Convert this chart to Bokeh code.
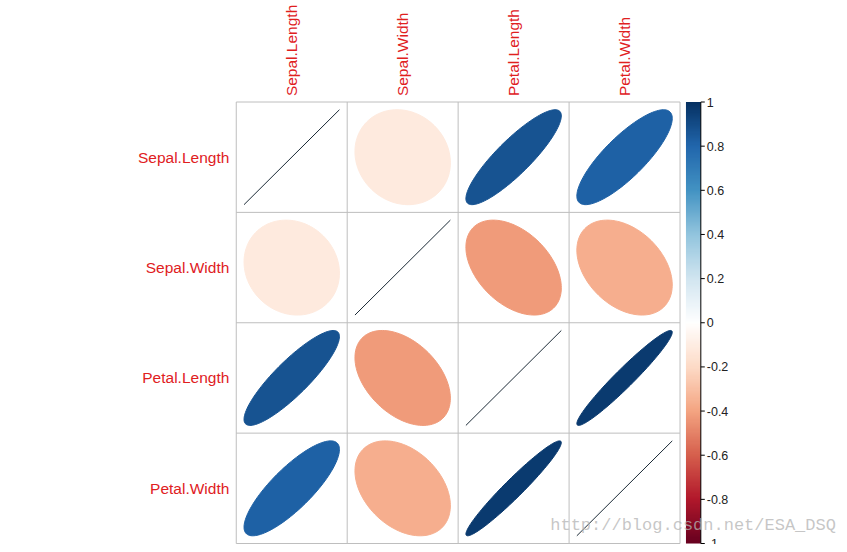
import numpy as np
from bokeh.plotting import figure
from bokeh.models import Range1d
from bokeh.core.properties import value
from bokeh.embed import file_html
from bokeh.resources import INLINE

# ---- data ----
variables = ["Sepal.Length", "Sepal.Width", "Petal.Length", "Petal.Width"]
corr_sepal_length = [1.0, -0.1176, 0.8718, 0.8179]
corr_sepal_width = [-0.1176, 1.0, -0.4284, -0.3661]
corr_petal_length = [0.8718, -0.4284, 1.0, 0.9629]
corr_petal_width = [0.8179, -0.3661, 0.9629, 1.0]
corr = [corr_sepal_length, corr_sepal_width, corr_petal_length, corr_petal_width]
cbar_ticks = [1, 0.8, 0.6, 0.4, 0.2, 0, -0.2, -0.4, -0.6, -0.8, -1]
cbar_labels = ["1", "0.8", "0.6", "0.4", "0.2", "0", "-0.2", "-0.4", "-0.6", "-0.8", "-1"]

palette = ["#67001F", "#B2182B", "#D6604D", "#F4A582", "#FDDBC7", "#FFFFFF",
           "#D1E5F0", "#92C5DE", "#4393C3", "#2166AC", "#053061"]


def hex2rgb(h):
    return np.array([int(h[i:i + 2], 16) for i in (1, 3, 5)], dtype=float)


pal_rgb = [hex2rgb(c) for c in palette]


def rgb_for(r):
    t = (r + 1) / 2 * (len(palette) - 1)
    i = int(np.clip(np.floor(t), 0, len(palette) - 2))
    f = t - i
    return pal_rgb[i] * (1 - f) + pal_rgb[i + 1] * f


def color_for(r):
    c = rgb_for(r)
    return "#%02x%02x%02x" % tuple(int(round(v)) for v in c)


# ---- layout (reference pixel coords, mapped onto the figure) ----
W, H = 839, 544
REF_W, REF_H = 847, 552
PX = 112.0            # pixels per cell in reference
GX0 = 238.0           # grid left
GY1 = 551.0           # grid bottom


def dx(px):
    return (px - GX0) / PX


def dy(py):
    return (GY1 - py) / PX


n = len(variables)
p = figure(width=W, height=H, output_backend="svg", toolbar_location=None,
           x_range=Range1d(dx(0), dx(REF_W)), y_range=Range1d(dy(REF_H), dy(0)),
           min_border=0, outline_line_color=None)
p.axis.visible = False
p.grid.visible = False
p.background_fill_color = "white"
p.border_fill_color = "white"

FONT = value("Liberation Sans")

# ellipses
SC = 0.86
k = np.linspace(0, 2 * np.pi, 120)
xs, ys, cols = [], [], []
lx, ly = [], []
for i in range(n):
    for j in range(n):
        r = corr[i][j]
        cx, cy = j + 0.5, (n - 1 - i) + 0.5
        a = np.arccos(np.clip(r, -1, 1))
        ex = np.cos(k + a / 2) / 2 * SC
        ey = np.cos(k - a / 2) / 2 * SC
        if abs(r) >= 0.999:
            lx.append([cx - SC / 2, cx + SC / 2])
            ly.append([cy - SC / 2 * np.sign(r), cy + SC / 2 * np.sign(r)])
        else:
            xs.append(list(cx + ex))
            ys.append(list(cy + ey))
            cols.append(color_for(r))

p.patches(xs=xs, ys=ys, fill_color=cols, line_color=cols, line_width=1)
p.multi_line(xs=lx, ys=ly, line_color="#1b2a36", line_width=1)

# grid
for g in range(n + 1):
    p.line([g, g], [0, n], line_color="#bebebe", line_width=1)
    p.line([0, n], [g, g], line_color="#bebebe", line_width=1)

# labels
label_color = "#e0201e"
p.text(x=[dx(231)] * n, y=[n - 1 - i + 0.5 for i in range(n)], text=variables,
       text_align="right", text_baseline="middle", text_color=label_color,
       text_font_size="15.5px", text_font=FONT)
p.text(x=[j + 0.5 for j in range(n)], y=[dy(97)] * n, text=variables,
       angle=np.pi / 2, text_align="left", text_baseline="middle",
       text_color=label_color, text_font_size="15.5px", text_font=FONT)

# colorbar as an RGBA image
NB = 400
vals = np.linspace(-1, 1, NB)
img = np.zeros((NB, 1), dtype=np.uint32)
view = img.view(dtype=np.uint8).reshape((NB, 1, 4))
for idx, v in enumerate(vals):
    c = rgb_for(v)
    view[idx, 0, 0] = int(round(c[0]))
    view[idx, 0, 1] = int(round(c[1]))
    view[idx, 0, 2] = int(round(c[2]))
    view[idx, 0, 3] = 255
cb_left, cb_right = dx(692), dx(707)
p.image_rgba(image=[img], x=cb_left, y=0, dw=cb_right - cb_left, dh=n)
p.line([cb_right, cb_right], [0, n], line_color="black", line_width=1)
tick_y = [(v + 1) * n / 2 for v in cbar_ticks]
p.segment(x0=[cb_right] * len(tick_y), x1=[dx(711)] * len(tick_y), y0=tick_y, y1=tick_y,
          line_color="black", line_width=1)
p.text(x=[dx(713)] * len(tick_y), y=tick_y, text=cbar_labels, text_align="left",
       text_baseline="middle", text_font_size="12.5px", text_font=FONT,
       text_color="#222222")

# watermark
p.text(x=[dx(555)], y=[dy(533)], text=["http://blog.csdn.net/ESA_DSQ"],
       text_align="left", text_baseline="middle", text_font_size="17px",
       text_font=value("Liberation Mono"), text_color="#b4b4b4", text_alpha=0.75)

open("out.html", "w").write(file_html(p, INLINE))
